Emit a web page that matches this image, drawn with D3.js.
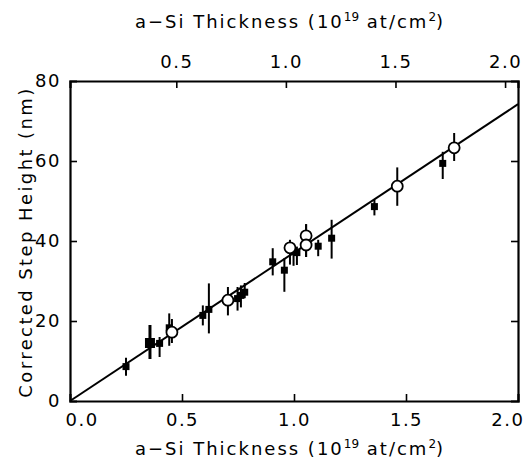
<!DOCTYPE html>
<html>
<head>
<meta charset="utf-8">
<script src="https://cdn.jsdelivr.net/npm/d3@7"></script>
<style>
  body { margin: 0; background: #fff; }
  text { font-family: "DejaVu Sans", sans-serif; fill: #000; }
</style>
</head>
<body>
<div id="chart"></div>
<script>
// filled squares: x, y, low, high
const sqX  = [0.25, 0.357, 0.40, 0.443, 0.593, 0.62, 0.748, 0.763, 0.78, 0.905, 0.957, 0.998, 1.013, 1.108, 1.168, 1.359, 1.664];
const sqY  = [8.6, 14.5, 14.4, 18.3, 21.4, 22.9, 25.6, 26.4, 27.2, 34.8, 32.7, 37.3, 37.1, 38.7, 40.7, 48.6, 59.4];
const sqLo = [6.3, 10.5, 11.0, 13.8, 18.9, 16.9, 22.6, 23.4, 25.7, 31.4, 27.3, 33.8, 34.0, 36.2, 35.6, 46.4, 55.5];
const sqHi = [10.8, 19.0, 16.0, 21.9, 23.9, 29.4, 28.5, 28.9, 29.5, 38.2, 35.7, 38.6, 38.6, 40.3, 45.3, 50.3, 62.3];
const sqBig = [false, true, false, false, false, false, false, false, false, false, false, false, false, false, false, false, false];

// open circles: x, y, low, high
const ciX  = [0.455, 0.705, 0.982, 1.054, 1.054, 1.461, 1.715];
const ciY  = [17.2, 25.2, 38.3, 41.3, 39.0, 53.7, 63.3];
const ciLo = [14.5, 21.4, 34.1, 36.0, 36.0, 48.8, 60.0];
const ciHi = [20.5, 28.5, 40.3, 44.2, 44.2, 58.4, 67.0];

// fitted line y = slope * x
const slope = 37.1;

const xTicks = [0.0, 0.5, 1.0, 1.5, 2.0];
const topTicks = [0.5, 1.0, 1.5, 2.0];
const yTicks = [0, 20, 40, 60, 80];

const W = 525, H = 461;
const margin = { top: 81, right: 7, bottom: 60, left: 70 };
const width = W - margin.left - margin.right;
const height = H - margin.top - margin.bottom;

const svg = d3.select("#chart").append("svg")
  .attr("width", W)
  .attr("height", H)
  .append("g")
  .attr("transform", "translate(" + margin.left + "," + margin.top + ")");

const x = d3.scaleLinear().domain([0, 2.0]).range([0, width]);
const xTop = d3.scaleLinear().domain([0.015, 2.059]).range([0, width]);
const y = d3.scaleLinear().domain([0, 80]).range([height, 0]);

const fmt = d3.format(".1f");

// bottom axis
const gx = svg.append("g")
  .attr("transform", "translate(0," + height + ")")
  .call(d3.axisBottom(x).tickValues(xTicks).tickFormat(fmt).tickSize(-7).tickPadding(12));

// top axis
const gxt = svg.append("g")
  .call(d3.axisTop(xTop).tickValues(topTicks).tickFormat(fmt).tickSize(-7).tickPadding(13));

// left axis
const gy = svg.append("g")
  .call(d3.axisLeft(y).tickValues(yTicks).tickSize(-7).tickPadding(9));

// right axis
const gyr = svg.append("g")
  .attr("transform", "translate(" + width + ",0)")
  .call(d3.axisRight(y).tickValues([20, 40, 60]).tickSize(-7).tickFormat(""));

[gx, gxt, gy, gyr].forEach(g => {
  g.select(".domain").attr("stroke", "#000").attr("stroke-width", 2.2);
  g.selectAll(".tick line").attr("stroke", "#000").attr("stroke-width", 1.6);
  g.selectAll(".tick text")
    .style("font-size", "18px")
    .style("letter-spacing", "1.5px")
    .style("font-family", "DejaVu Sans, sans-serif");
});
gx.selectAll(".tick").filter(d => d === 0 || d === 2).select("line").remove();
gy.selectAll(".tick").filter(d => d === 0 || d === 80).select("line").remove();
// end labels on the bottom axis sit inside the frame
gx.selectAll(".tick").filter(d => d === 0).select("text").attr("text-anchor", "start").attr("x", -5);
gx.selectAll(".tick").filter(d => d === 2).select("text").attr("text-anchor", "end").attr("x", 6);

// fit line
const line = d3.line().x(d => x(d[0])).y(d => y(d[1]));
svg.append("path")
  .datum([[0, 0], [2.0, 2.0 * slope]])
  .attr("d", line)
  .attr("fill", "none")
  .attr("stroke", "#000")
  .attr("stroke-width", 2);

// error bars
sqX.forEach((v, i) => {
  svg.append("line")
    .attr("x1", x(v)).attr("x2", x(v))
    .attr("y1", y(sqLo[i])).attr("y2", y(sqHi[i]))
    .attr("stroke", "#000").attr("stroke-width", sqBig[i] ? 3 : 2);
});
ciX.forEach((v, i) => {
  svg.append("line")
    .attr("x1", x(v)).attr("x2", x(v))
    .attr("y1", y(ciLo[i])).attr("y2", y(ciHi[i]))
    .attr("stroke", "#000").attr("stroke-width", 2);
});

// squares
sqX.forEach((v, i) => {
  const s = sqBig[i] ? 10 : 7;
  svg.append("rect")
    .attr("x", x(v) - s / 2)
    .attr("y", y(sqY[i]) - s / 2)
    .attr("width", s)
    .attr("height", s)
    .attr("fill", "#000");
});

// circles
ciX.forEach((v, i) => {
  svg.append("circle")
    .attr("cx", x(v))
    .attr("cy", y(ciY[i]))
    .attr("r", 5.5)
    .attr("fill", "#fff")
    .attr("stroke", "#000")
    .attr("stroke-width", 1.8);
});

// titles
function xTitle(yPos) {
  const t = d3.select("svg").append("text")
    .attr("x", 290)
    .attr("y", yPos)
    .attr("text-anchor", "middle")
    .style("font-size", "18px")
    .style("letter-spacing", "2px");
  t.append("tspan").text("a\u2212Si Thickness (10");
  t.append("tspan").attr("dy", -7).style("font-size", "12px").style("letter-spacing", "0px").text("19");
  t.append("tspan").attr("dy", 7).text(" at/cm");
  t.append("tspan").attr("dy", -7).style("font-size", "12px").style("letter-spacing", "0px").text("2");
  t.append("tspan").attr("dy", 7).text(")");
}
xTitle(28);
xTitle(455);

d3.select("svg").append("text")
  .attr("transform", "translate(32,242) rotate(-90)")
  .attr("text-anchor", "middle")
  .style("font-size", "18px")
  .style("letter-spacing", "2.4px")
  .text("Corrected Step Height (nm)");
</script>
</body>
</html>
